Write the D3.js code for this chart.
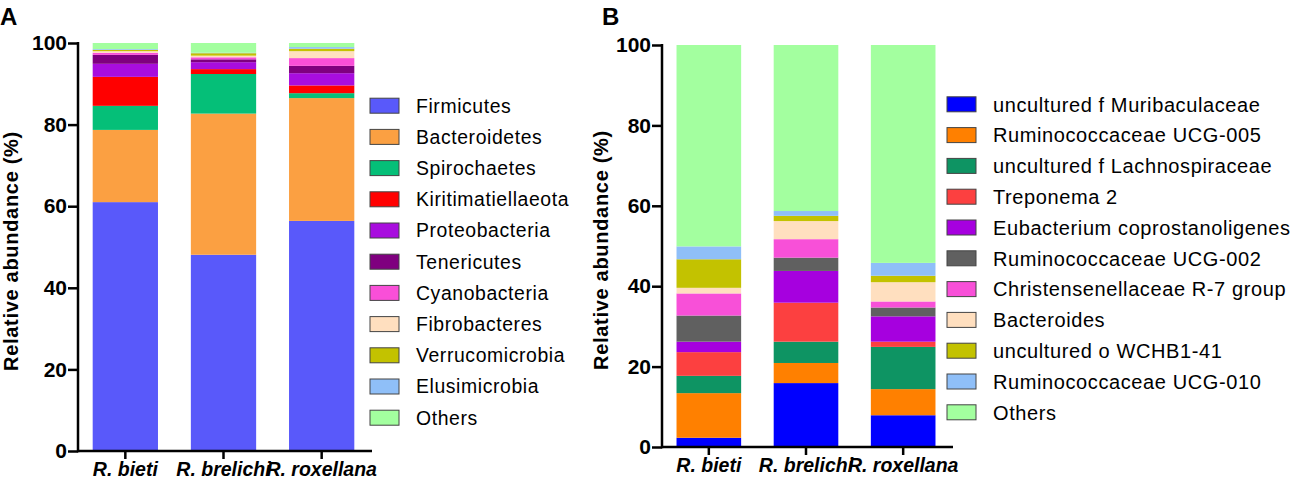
<!DOCTYPE html>
<html>
<head>
<meta charset="utf-8">
<script src="https://cdn.jsdelivr.net/npm/d3@7"></script>
<style>
  body { margin: 0; background: #fff; }
  svg { font-family: "Liberation Sans", Arial, sans-serif; }
</style>
</head>
<body>
<svg id="chart" width="1296" height="482"></svg>
<script>
// samples on the x axis
const samples = ['R. bieti', 'R. brelichi', 'R. roxellana']
const yTicks = [0, 20, 40, 60, 80, 100]

// panel A: phylum level
const phyla = ['Firmicutes', 'Bacteroidetes', 'Spirochaetes', 'Kiritimatiellaeota', 'Proteobacteria',
  'Tenericutes', 'Cyanobacteria', 'Fibrobacteres', 'Verrucomicrobia', 'Elusimicrobia', 'Others']
const bietiPhyla = [61.0, 17.7, 5.9, 7.1, 3.2, 2.2, 0.5, 0.4, 0.3, 0.2, 1.5]
const brelichiPhyla = [48.1, 34.6, 9.7, 1.2, 1.7, 0.7, 0.5, 0.4, 0.6, 0.1, 2.4]
const roxellanaPhyla = [56.4, 30.1, 1.2, 1.9, 3.0, 1.8, 1.9, 1.7, 0.6, 0.4, 1.0]
const phylaColors = ['#5959fa', '#fba042', '#05bf78', '#ff0000', '#a80dde',
  '#7f007f', '#f94fd8', '#ffdfbf', '#c3c200', '#8fbff8', '#a3ff9f']

// panel B: genus level
const genera = ['uncultured f Muribaculaceae', 'Ruminococcaceae UCG-005', 'uncultured f Lachnospiraceae',
  'Treponema 2', 'Eubacterium coprostanoligenes', 'Ruminococcaceae UCG-002', 'Christensenellaceae R-7 group',
  'Bacteroides', 'uncultured o WCHB1-41', 'Ruminococcaceae UCG-010', 'Others']
const bietiGenera = [2.3, 11.1, 4.3, 5.9, 2.6, 6.5, 5.5, 1.4, 7.1, 3.2, 50.1]
const brelichiGenera = [15.9, 5.0, 5.3, 9.7, 7.9, 3.3, 4.6, 4.5, 1.3, 1.2, 41.3]
const roxellanaGenera = [7.9, 6.5, 10.5, 1.3, 6.3, 2.2, 1.5, 4.8, 1.6, 3.2, 54.2]
const generaColors = ['#0000ff', '#ff8000', '#0e9463', '#fc4040', '#a600df',
  '#606060', '#f850d8', '#ffdfbf', '#c3c200', '#8fbff8', '#a3ff9f']

const svg = d3.select('#chart')

const toRows = (names, cols) =>
  samples.map((s, i) => {
    const row = { sample: s }
    names.forEach((n, j) => { row[n] = cols[i][j] })
    return row
  })

function drawPanel(opts) {
  const { letter, letterX, names, colors, rows, xRange, yRange, titleX, legendX, legendY, legendStep, legendFont } = opts
  const g = svg.append('g')

  const x = d3.scaleBand().domain(samples).range(xRange).paddingInner(0.335).paddingOuter(0.17)
  const y = d3.scaleLinear().domain([0, 100]).range(yRange)
  const color = d3.scaleOrdinal().domain(names).range(colors)

  const stacked = d3.stack().keys(names)(rows)

  // stacked bars
  g.selectAll('.layer')
    .data(stacked)
    .join('g')
    .attr('fill', (d) => color(d.key))
    .selectAll('rect')
    .data((d) => d)
    .join('rect')
    .attr('x', (d) => x(d.data.sample))
    .attr('width', x.bandwidth())
    .attr('y', (d) => y(d[1]))
    .attr('height', (d) => y(d[0]) - y(d[1]))

  const x0 = xRange[0] + 2
  // y axis
  const yAxis = d3.axisLeft(y).tickValues(yTicks).tickSize(10).tickPadding(1).tickSizeOuter(0)
  const ya = g.append('g').attr('transform', `translate(${x0},0)`).call(yAxis)
  ya.select('.domain').remove()
  ya.selectAll('.tick line').attr('stroke', '#000').attr('stroke-width', 2.5)
  ya.selectAll('.tick text').attr('font-size', 21).attr('font-weight', 'bold').attr('fill', '#000')
  g.append('line')
    .attr('x1', x0).attr('x2', x0)
    .attr('y1', y(100) - 1).attr('y2', y(0) + 1.2)
    .attr('stroke', '#000').attr('stroke-width', 2.5)

  // x axis
  const xAxis = d3.axisBottom(x).tickSize(8).tickPadding(3).tickSizeOuter(0)
  const xa = g.append('g').attr('transform', `translate(0,${y(0)})`).call(xAxis)
  xa.select('.domain').remove()
  xa.selectAll('.tick line').attr('stroke', '#000').attr('stroke-width', 2.5)
  xa.selectAll('.tick text')
    .attr('font-size', 19.5).attr('font-weight', 'bold').attr('font-style', 'italic').attr('fill', '#000')
  g.append('line')
    .attr('x1', x0).attr('x2', xRange[1] + 1)
    .attr('y1', y(0)).attr('y2', y(0))
    .attr('stroke', '#000').attr('stroke-width', 2.5)

  // axis title
  g.append('text')
    .attr('transform', `translate(${titleX},${(y(0) + y(100)) / 2 + 4}) rotate(-90)`)
    .attr('text-anchor', 'middle')
    .attr('font-size', 20)
    .attr('font-weight', 'bold')
    .attr('letter-spacing', 0.7)
    .text('Relative abundance (%)')

  // panel letter
  svg.append('text')
    .attr('x', letterX).attr('y', 25)
    .attr('font-size', 24).attr('font-weight', 'bold')
    .text(letter)

  // legend
  const leg = g.selectAll('.leg')
    .data(names)
    .join('g')
    .attr('transform', (d, i) => `translate(${legendX},${legendY + i * legendStep})`)
  leg.append('rect')
    .attr('x', 0).attr('y', -7.5).attr('width', 29).attr('height', 15)
    .attr('fill', (d) => color(d))
    .attr('stroke', '#444').attr('stroke-width', 1)
  leg.append('text')
    .attr('x', 46).attr('dy', '0.36em')
    .attr('font-size', legendFont).attr('letter-spacing', 0.6)
    .text((d) => d)
}

drawPanel({
  letter: 'A', letterX: 0,
  names: phyla, colors: phylaColors,
  rows: toRows(phyla, [bietiPhyla, brelichiPhyla, roxellanaPhyla]),
  xRange: [76, 371], yRange: [451, 43],
  titleX: 18, legendX: 370, legendY: 105.7, legendStep: 31.2, legendFont: 19.4
})

drawPanel({
  letter: 'B', letterX: 602,
  names: genera, colors: generaColors,
  rows: toRows(genera, [bietiGenera, brelichiGenera, roxellanaGenera]),
  xRange: [660, 952], yRange: [447, 45],
  titleX: 608, legendX: 947, legendY: 104.3, legendStep: 30.8, legendFont: 20
})
</script>
</body>
</html>
